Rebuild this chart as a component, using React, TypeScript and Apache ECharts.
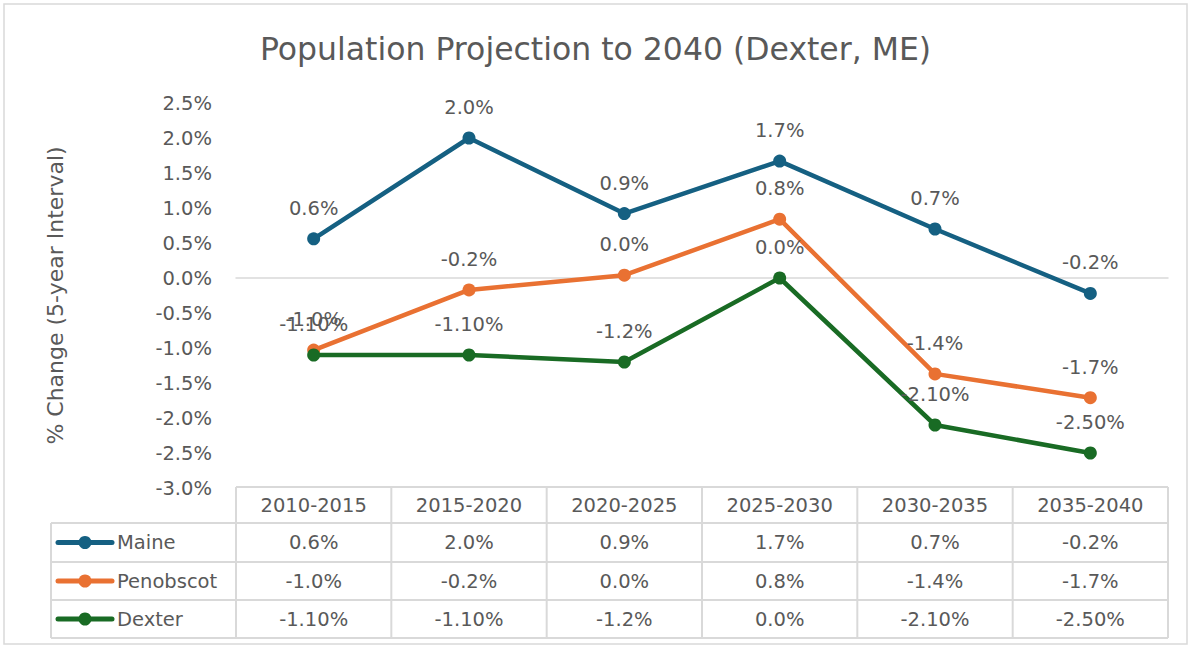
import React, { useEffect, useRef } from "react";
import * as echarts from "echarts";

const categories = ["2010-2015", "2015-2020", "2020-2025", "2025-2030", "2030-2035", "2035-2040"];
const seriesNames = ["Maine", "Penobscot", "Dexter"];
const maineValues = [0.56, 2.0, 0.92, 1.67, 0.7, -0.22];
const penobscotValues = [-1.03, -0.17, 0.04, 0.84, -1.37, -1.71];
const dexterValues = [-1.1, -1.1, -1.2, 0.0, -2.1, -2.5];
const maineLabels = ["0.6%", "2.0%", "0.9%", "1.7%", "0.7%", "-0.2%"];
const penobscotLabels = ["-1.0%", "-0.2%", "0.0%", "0.8%", "-1.4%", "-1.7%"];
const dexterLabels = ["-1.10%", "-1.10%", "-1.2%", "0.0%", "-2.10%", "-2.50%"];
const seriesColors = ["#156082", "#E97132", "#196B24"];
const yMin = -3;
const yMax = 2.5;
const yInterval = 0.5;

const FONT = "'DejaVu Sans', sans-serif";
const TEXT = "#595959";
const BORDER = "#d9d9d9";

const GRID_LEFT = 236;
const GRID_RIGHT = 1168;
const GRID_TOP = 103;
const GRID_BOTTOM = 488;
const TABLE_LEFT = 51;
const ROW_EDGES = [487, 523, 562, 600, 638];
const FS = 19.5;

export default function App() {
  const ref = useRef<HTMLDivElement>(null);
  useEffect(() => {
    document.body.style.margin = "0";
    const chart = echarts.init(ref.current!, null, { renderer: "svg" });
    const allValues = [maineValues, penobscotValues, dexterValues];
    const allLabels = [maineLabels, penobscotLabels, dexterLabels];
    const series = seriesNames.map((name, s) => ({
      name,
      type: "line",
      data: allValues[s],
      symbol: "circle",
      symbolSize: 13,
      lineStyle: { width: 4.5, color: seriesColors[s] },
      itemStyle: { color: seriesColors[s] },
      label: {
        show: true,
        position: "top",
        distance: 14,
        fontSize: FS,
        fontFamily: FONT,
        color: TEXT,
        formatter: (p: any) => allLabels[s][p.dataIndex],
      },
      z: 3 + s,
    }));
    chart.setOption({
      animation: false,
      title: {
        text: "Population Projection to 2040 (Dexter, ME)",
        left: "center",
        top: 28,
        textStyle: { fontSize: 31.5, fontWeight: "normal", color: TEXT, fontFamily: FONT },
      },
      grid: {
        left: GRID_LEFT,
        right: 1191 - GRID_RIGHT,
        top: GRID_TOP,
        bottom: 649 - GRID_BOTTOM,
      },
      xAxis: {
        type: "category",
        data: categories,
        boundaryGap: true,
        axisLine: { onZero: true, lineStyle: { color: BORDER, width: 1.5 } },
        axisTick: { show: false },
        axisLabel: { show: false },
      },
      yAxis: {
        type: "value",
        min: yMin,
        max: yMax,
        interval: yInterval,
        name: "% Change (5-year Interval)",
        nameLocation: "middle",
        nameGap: 170,
        nameTextStyle: { fontSize: 22, color: TEXT, fontFamily: FONT },
        axisLine: { show: false },
        axisTick: { show: false },
        splitLine: { show: false },
        axisLabel: {
          margin: 24,
          fontSize: FS,
          color: TEXT,
          fontFamily: FONT,
          formatter: (v: number) => v.toFixed(1) + "%",
        },
      },
      series,
    });

    const n = categories.length;
    const colW = (GRID_RIGHT - GRID_LEFT) / n;
    const els: any[] = [];
    els.push({
      type: "rect",
      shape: { x: 4, y: 4, width: 1183, height: 640 },
      style: { fill: "none", stroke: BORDER, lineWidth: 1.5 },
      silent: true,
    });
    const lineStyle = { stroke: BORDER, lineWidth: 2 };
    els.push({ type: "line", shape: { x1: GRID_LEFT, y1: ROW_EDGES[0], x2: GRID_RIGHT, y2: ROW_EDGES[0] }, style: lineStyle });
    for (let r = 1; r < ROW_EDGES.length; r++) {
      els.push({ type: "line", shape: { x1: TABLE_LEFT, y1: ROW_EDGES[r], x2: GRID_RIGHT, y2: ROW_EDGES[r] }, style: lineStyle });
    }
    els.push({ type: "line", shape: { x1: TABLE_LEFT, y1: ROW_EDGES[1], x2: TABLE_LEFT, y2: ROW_EDGES[4] }, style: lineStyle });
    for (let c = 0; c <= n; c++) {
      const x = GRID_LEFT + c * colW;
      els.push({ type: "line", shape: { x1: x, y1: ROW_EDGES[0], x2: x, y2: ROW_EDGES[4] }, style: lineStyle });
    }
    const rowCenter = (r: number) => (ROW_EDGES[r] + ROW_EDGES[r + 1]) / 2;
    categories.forEach((cat, i) => {
      const cx = chart.convertToPixel({ xAxisIndex: 0 }, cat) as number;
      els.push({
        type: "text",
        style: { text: cat, x: cx, y: rowCenter(0), align: "center", verticalAlign: "middle", fontSize: FS, fill: TEXT, fontFamily: FONT },
      });
      allLabels.forEach((labels, s) => {
        els.push({
          type: "text",
          style: { text: labels[i], x: cx, y: rowCenter(s + 1), align: "center", verticalAlign: "middle", fontSize: FS, fill: TEXT, fontFamily: FONT },
        });
      });
    });
    seriesNames.forEach((name, s) => {
      const cy = rowCenter(s + 1);
      els.push({ type: "line", shape: { x1: 58, y1: cy, x2: 112, y2: cy }, style: { stroke: seriesColors[s], lineWidth: 5, lineCap: "round" } });
      els.push({ type: "circle", shape: { cx: 85, cy, r: 6.5 }, style: { fill: seriesColors[s] } });
      els.push({
        type: "text",
        style: { text: name, x: 117, y: cy, align: "left", verticalAlign: "middle", fontSize: FS, fill: TEXT, fontFamily: FONT },
      });
    });
    chart.setOption({ graphic: { elements: els } });
    return () => chart.dispose();
  }, []);
  return <div ref={ref} style={{ width: 1191, height: 649 }} />;
}
